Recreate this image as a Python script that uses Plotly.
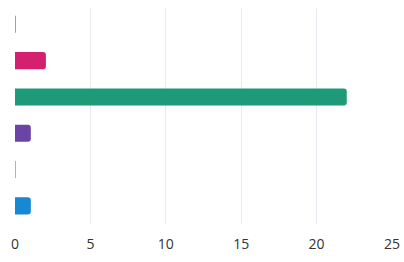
import plotly.graph_objects as go

categories = ["Cat 1", "Cat 2", "Cat 3", "Cat 4", "Cat 5", "Cat 6"]
values = [0.06, 2.05, 22.0, 1.05, 0.06, 1.05]
colors = ["#8f9fd6", "#d4206e", "#1f9a78", "#6a45a6", "#a9c75a", "#1689d2"]
x_ticks = [0, 5, 10, 15, 20, 25]

fig = go.Figure(go.Bar(
    y=categories, x=values, orientation="h",
    marker=dict(color=colors, line=dict(width=0), cornerradius=3),
    width=0.47,
    hoverinfo="x+y",
))

fig.update_layout(
    width=404, height=262,
    margin=dict(l=15, r=12, t=8, b=38, autoexpand=False),
    paper_bgcolor="white", plot_bgcolor="white",
    showlegend=False,
    font=dict(family="Open Sans", size=14, color="#333333"),
    xaxis=dict(range=[0, 25], tickvals=x_ticks, showgrid=True, gridcolor="#e8e8f0",
               gridwidth=1, zeroline=False, showline=False, ticks="",
               ticklabelstandoff=10, automargin=False,
               tickfont=dict(size=14, color="#333333")),
    yaxis=dict(range=[5.5, -0.45], showticklabels=False, showgrid=False,
               zeroline=False, showline=False, ticks="", automargin=False),
)

fig.write_html(
    "out.html",
    config={"displayModeBar": False},
    post_script="document.body.style.margin='0';document.body.style.overflow='hidden';",
)
